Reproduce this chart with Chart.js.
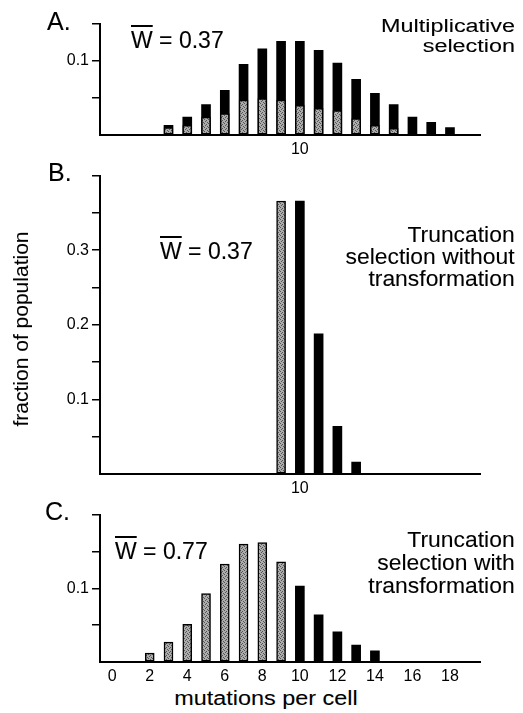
<!DOCTYPE html>
<html lang="en">
<head>
<meta charset="UTF-8" />
<title>Mutations per cell</title>
<script src="https://cdn.jsdelivr.net/npm/chart.js"></script>
<style>
  body { margin: 0; background: #fff; color: #000; font-family: 'Liberation Sans', Arial, sans-serif; }
  .page { position: relative; width: 523px; height: 713px; overflow: hidden; }
  .panel { position: absolute; left: 0; width: 500px; }
  .txt { position: absolute; white-space: nowrap; -webkit-text-stroke: 0.1px #000; }
  .lbl { font-size: 25px; line-height: 25px; }
  .w { font-size: 23px; line-height: 23px; }
  .w span { text-decoration: overline; text-decoration-thickness: 1.5px; }
  .note { right: 8px; text-align: right; transform-origin: right center; }
</style>
</head>
<body>
<div class="page">
  <div class="panel" style="top:11px; height:149px;"><canvas id="chartA"></canvas></div>
  <div class="panel" style="top:163px; height:336px;"><canvas id="chartB"></canvas></div>
  <div class="panel" style="top:502px; height:185px;"><canvas id="chartC"></canvas></div>

  <div class="txt lbl" style="left:47px; top:9px;">A.</div>
  <div class="txt lbl" style="left:48px; top:160px;">B.</div>
  <div class="txt lbl" style="left:45px; top:499px;">C.</div>

  <div class="txt w" style="left:131px; top:29px;"><span>W</span> = 0.37</div>
  <div class="txt w" style="left:160px; top:240px;"><span>W</span> = 0.37</div>
  <div class="txt w" style="left:115px; top:540px;"><span>W</span> = 0.77</div>

  <div class="txt note" style="top:16px; font-size:18px; line-height:20px; transform:scaleX(1.3);">Multiplicative<br>selection</div>
  <div class="txt note" style="top:224px; font-size:22px; line-height:22px; transform:scaleX(1.04);">Truncation<br>selection without<br>transformation</div>
  <div class="txt note" style="top:528px; font-size:22px; line-height:23px; transform:scaleX(1.04);">Truncation<br>selection with<br>transformation</div>

  <div class="txt" style="left:-89px; top:317px; width:220px; text-align:center; font-size:21px; line-height:24px; transform:rotate(-90deg);">fraction of population</div>
  <div class="txt" style="left:166px; top:687px; width:200px; text-align:center; font-size:20px; line-height:22px; transform:scaleX(1.17);">mutations per cell</div>
</div>

<script>
  // A. multiplicative selection: whole population (black) and survivors (grey)
  const aX = [3, 4, 5, 6, 7, 8, 9, 10, 11, 12, 13, 14, 15, 16, 17, 18];
  const aTotal = [0.013, 0.024, 0.041, 0.060, 0.095, 0.116, 0.126, 0.126, 0.114, 0.097, 0.075, 0.056, 0.041, 0.024, 0.017, 0.010];
  const aGrayX = [3, 4, 5, 6, 7, 8, 9, 10, 11, 12, 13, 14, 15];
  const aGray = [0.010, 0.013, 0.024, 0.029, 0.047, 0.049, 0.047, 0.040, 0.036, 0.033, 0.022, 0.013, 0.009];

  // B. truncation selection without transformation
  const bGrayX = [9];
  const bGray = [0.366];
  const bBlackX = [10, 11, 12, 13];
  const bBlack = [0.366, 0.188, 0.064, 0.016];

  // C. truncation selection with transformation
  const cGrayX = [2, 3, 4, 5, 6, 7, 8, 9];
  const cGray = [0.012, 0.027, 0.051, 0.093, 0.133, 0.160, 0.162, 0.136];
  const cBlackX = [10, 11, 12, 13, 14];
  const cBlack = [0.103, 0.064, 0.041, 0.023, 0.015];

  const aYLabels = [0.1];
  const bYLabels = [0.1, 0.2, 0.3];
  const cYLabels = [0.1];
  const abXLabels = [10];
  const cXLabels = [0, 2, 4, 6, 8, 10, 12, 14, 16, 18];

  const tickFont = { family: 'Liberation Sans', size: 16 };

  function stipple() {
    const c = document.createElement('canvas');
    c.width = 4; c.height = 4;
    const g = c.getContext('2d');
    g.fillStyle = '#acacac';
    g.fillRect(0, 0, 4, 4);
    g.fillStyle = '#555';
    [[0, 0], [2, 1], [1, 2], [3, 3]].forEach(([x, y]) => g.fillRect(x, y, 1, 1));
    return g.createPattern(c, 'repeat');
  }
  const grey = stipple();

  function bars(xs, ys, fill, border) {
    return {
      data: xs.map((x, i) => ({ x: x, y: ys[i] })),
      backgroundColor: fill,
      borderColor: '#000',
      borderWidth: border,
      borderSkipped: false,
      barThickness: 9,
      grouped: false
    };
  }

  function makePanel(id, yMax, yLabels, xLabels, datasets) {
    new Chart(document.getElementById(id), {
      type: 'bar',
      data: { datasets: datasets },
      options: {
        responsive: true,
        maintainAspectRatio: false,
        animation: false,
        layout: { padding: { top: 10, right: 20, left: 0, bottom: 0 } },
        plugins: { legend: { display: false }, tooltip: { enabled: false } },
        scales: {
          x: {
            type: 'linear', min: -0.65, max: 19.6, offset: false,
            grid: { display: false, drawTicks: false },
            border: { color: '#000', width: 2 },
            afterBuildTicks: s => { s.ticks = xLabels.map(v => ({ value: v })); },
            afterFit: s => { s.height = 25; },
            ticks: { font: tickFont, color: '#000', padding: 5, maxRotation: 0, autoSkip: false, callback: v => String(v) }
          },
          y: {
            min: 0, max: yMax,
            grid: {
              drawOnChartArea: false, drawTicks: true, tickLength: 8, lineWidth: 1.5,
              color: c => (c.tick && c.tick.value === 0) ? 'rgba(0,0,0,0)' : '#000'
            },
            border: { color: '#000', width: 2 },
            afterFit: s => { s.width = 100; },
            ticks: {
              stepSize: 0.05, font: tickFont, color: '#000', padding: 3, autoSkip: false,
              callback: v => {
                const hit = yLabels.find(l => Math.abs(l - v) < 1e-6);
                return hit === undefined ? '' : String(hit);
              }
            }
          }
        }
      }
    });
  }

  makePanel('chartA', 0.15, aYLabels, abXLabels, [
    bars(aGrayX, aGray, grey, 1.5),
    bars(aX, aTotal, '#000', 0)
  ]);
  makePanel('chartB', 0.4, bYLabels, abXLabels, [
    bars(bGrayX, bGray, grey, 1.5),
    bars(bBlackX, bBlack, '#000', 0)
  ]);
  makePanel('chartC', 0.2, cYLabels, cXLabels, [
    bars(cGrayX, cGray, grey, 1.5),
    bars(cBlackX, cBlack, '#000', 0)
  ]);
</script>
</body>
</html>
